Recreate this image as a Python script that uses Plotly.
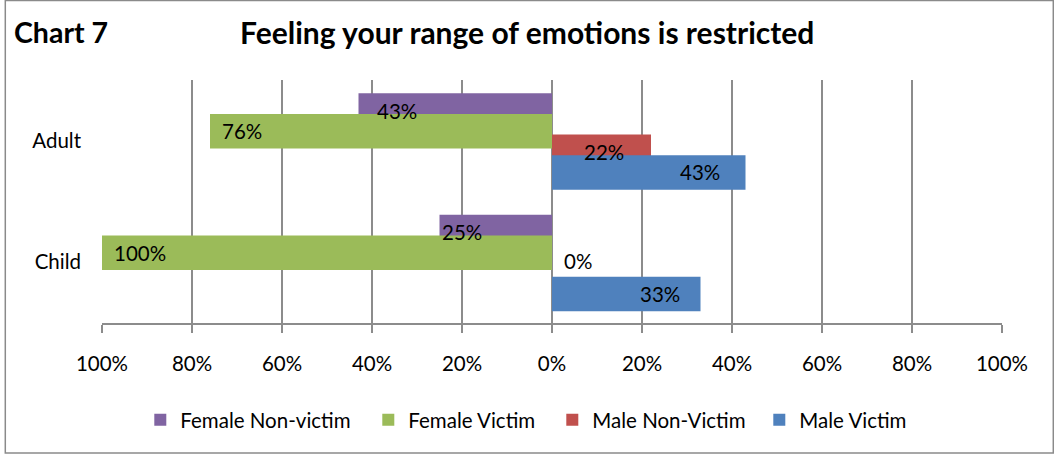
import plotly.graph_objects as go

# ---------------- data ----------------
categories = ["Adult", "Child"]
series_names = ["Female Non-victim", "Female Victim", "Male Non-Victim", "Male Victim"]
female_nonvictim = [43, 25]
female_victim = [76, 100]
male_nonvictim = [22, 0]
male_victim = [43, 33]
x_tick_values = [-100, -80, -60, -40, -20, 0, 20, 40, 60, 80, 100]
x_tick_labels = ["100%", "80%", "60%", "40%", "20%", "0%", "20%", "40%", "60%", "80%", "100%"]

# ---------------- style ----------------
colors = ["#8064A2", "#9BBB59", "#C0504D", "#4F81BD"]
signs = [-1, -1, 1, 1]          # females drawn to the left
bar_offsets = [0.107, -0.063, -0.233, -0.403]
bar_width = 0.284
label_inset_px = [[38, 22], [32, 38], [47, -26], [46, 41]]
label_yshift_px = [[0, 0], [0, 0], [0, 12], [0, 0]]
legend_square_centers_px = [160, 388, 572, 779]
FONT = "Lato"
GRID = "#8C8C8C"
TXT = 20.5

W, H = 1054, 461
L, R, T, B = 101.7, 1001.7, 80, 323


def px_x(p):
    return (p - L) / (R - L)


def px_y(p):
    return (B - p) / (B - T)


values = [female_nonvictim, female_victim, male_nonvictim, male_victim]
cat_order = ["Child", "Adult"]  # bottom to top
cat_index = {c: cat_order.index(c) for c in categories}

fig = go.Figure()
annotations = []
legend_defs = {}
for i, (name, vals) in enumerate(zip(series_names, values)):
    xs = [signs[i] * v for v in vals]
    lg = "legend" if i == 0 else f"legend{i + 1}"
    fig.add_trace(go.Bar(
        name=name, y=categories, x=xs, orientation="h",
        marker=dict(color=colors[i], line=dict(width=0)),
        offset=bar_offsets[i], width=bar_width,
        hoverinfo="skip", legend=lg,
    ))
    legend_defs[lg] = dict(
        orientation="h", x=px_x(legend_square_centers_px[i] - 20), xanchor="left",
        y=px_y(420), yanchor="middle", bgcolor="rgba(0,0,0,0)",
        font=dict(family=FONT, size=TXT, color="#000000"), itemclick=False)
    for j, c in enumerate(categories):
        annotations.append(dict(
            x=xs[j], y=cat_index[c] + bar_offsets[i] + bar_width / 2,
            xref="x", yref="y", text=f"{vals[j]}%", showarrow=False,
            xanchor="center", yanchor="middle",
            xshift=-signs[i] * label_inset_px[i][j], yshift=label_yshift_px[i][j],
            font=dict(family=FONT, size=TXT, color="#000000"),
        ))

annotations.append(dict(
    x=px_x(12), y=px_y(32), xref="paper", yref="paper", text="<b>Chart 7</b>",
    showarrow=False, xanchor="left", yanchor="middle",
    font=dict(family=FONT, size=28.5, color="#000000")))
annotations.append(dict(
    x=px_x(527), y=px_y(32), xref="paper", yref="paper",
    text="<b>Feeling your range of emotions is restricted</b>",
    showarrow=False, xanchor="center", yanchor="middle",
    font=dict(family=FONT, size=30, color="#000000")))

fig.update_layout(
    width=W, height=H, barmode="overlay",
    margin=dict(l=L, r=W - R, t=T, b=H - B, pad=0),
    paper_bgcolor="white", plot_bgcolor="white",
    font=dict(family=FONT, size=TXT, color="#000000"),
    showlegend=True,
    annotations=annotations,
    shapes=[dict(type="rect", xref="paper", yref="paper",
                 x0=px_x(5), x1=px_x(1053), y0=px_y(453), y1=px_y(0.5),
                 line=dict(color="#8A8A8A", width=1.5), layer="below")],
    **legend_defs,
)
fig.update_xaxes(range=[-100, 100], tickvals=x_tick_values, ticktext=x_tick_labels,
                 showgrid=True, gridcolor=GRID, gridwidth=1.5, zeroline=False,
                 showline=True, linecolor=GRID, linewidth=1.5,
                 ticks="outside", ticklen=8, tickcolor=GRID, tickwidth=1.5,
                 ticklabelstandoff=14, fixedrange=True)
fig.update_yaxes(type="category", categoryorder="array", categoryarray=cat_order,
                 range=[-0.5, 1.5], showgrid=False, zeroline=False, showline=False,
                 ticks="", ticklabelstandoff=20, fixedrange=True)

fig.write_html("out.html", config={"displayModeBar": False},
               post_script="document.body.style.margin='0px';")
